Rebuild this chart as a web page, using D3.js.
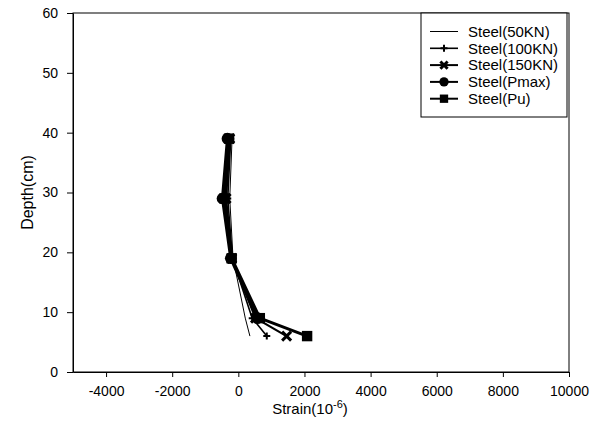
<!DOCTYPE html>
<html>
<head>
<meta charset="utf-8">
<script src="https://cdn.jsdelivr.net/npm/d3@7"></script>
<style>
  body { margin: 0; background: #fff; }
  svg { display: block; }
  text { font-family: "Liberation Sans", Arial, sans-serif; fill: #000; }
</style>
</head>
<body>
<svg id="chart" width="603" height="423"></svg>
<script>
// ---- data ----
const depths = [39, 29, 19, 9, 6];
const steel50 = [-190, -260, -160, 210, 350];
const steel100 = [-230, -320, -180, 420, 860];
const steel150 = [-260, -370, -200, 520, 1460];
const steelPmax = [-330, -480, -230, 580, null];
const steelPu = [-280, -420, -200, 650, 2080];
const seriesNames = ["Steel(50KN)", "Steel(100KN)", "Steel(150KN)", "Steel(Pmax)", "Steel(Pu)"];
const xTicks = [-4000, -2000, 0, 2000, 4000, 6000, 8000, 10000];
const yTicks = [0, 10, 20, 30, 40, 50, 60];

const seriesValues = [steel50, steel100, steel150, steelPmax, steelPu];
const styles = [
  { w: 1, marker: "none" },
  { w: 1.6, marker: "plus" },
  { w: 2.2, marker: "cross" },
  { w: 3, marker: "circle" },
  { w: 3, marker: "square" }
];

const svg = d3.select("#chart");
const m = { left: 73, right: 569, top: 13, bottom: 372 };
const x = d3.scaleLinear().domain([-5000, 10000]).range([m.left, m.right]);
const y = d3.scaleLinear().domain([0, 60]).range([m.bottom, m.top]);

// frame
svg.append("rect").attr("x", m.left).attr("y", m.top)
  .attr("width", m.right - m.left).attr("height", m.bottom - m.top)
  .attr("fill", "none").attr("stroke", "#000").attr("stroke-width", 1);

// axes
const fmt = d => String(d);
const xAxis = svg.append("g").attr("transform", `translate(0,${m.bottom})`)
  .call(d3.axisBottom(x).tickValues(xTicks).tickFormat(fmt).tickSize(5).tickSizeOuter(0).tickPadding(9));
const yAxis = svg.append("g").attr("transform", `translate(${m.left},0)`)
  .call(d3.axisLeft(y).tickValues(yTicks).tickFormat(fmt).tickSize(6).tickSizeOuter(0).tickPadding(9));
[xAxis, yAxis].forEach(g => {
  g.select(".domain").attr("stroke", "#000");
  g.selectAll(".tick line").attr("stroke", "#000");
  g.selectAll(".tick text").attr("font-size", 14).attr("fill", "#000")
    .attr("font-family", "Liberation Sans, Arial, sans-serif");
});

// axis titles
const xt = svg.append("text").attr("x", 310).attr("y", 414)
  .attr("text-anchor", "middle").attr("font-size", 15);
xt.append("tspan").text("Strain(10");
xt.append("tspan").attr("dy", -6).attr("font-size", 11).text("-6");
xt.append("tspan").attr("dy", 6).text(")");

svg.append("text").attr("transform", `translate(33,${(m.top + m.bottom) / 2}) rotate(-90)`)
  .attr("text-anchor", "middle").attr("font-size", 16).text("Depth(cm)");

// marker drawer
function drawMarker(g, type, cx, cy, scale = 1) {
  if (type === "plus") {
    g.append("path").attr("d", `M${cx - 3.5},${cy}H${cx + 3.5}M${cx},${cy - 3.5}V${cy + 3.5}`)
      .attr("stroke", "#000").attr("stroke-width", 2);
  } else if (type === "cross") {
    const s = 4.5 * scale;
    g.append("path").attr("d", `M${cx - s},${cy - s}L${cx + s},${cy + s}M${cx - s},${cy + s}L${cx + s},${cy - s}`)
      .attr("stroke", "#000").attr("stroke-width", 3);
  } else if (type === "circle") {
    g.append("circle").attr("cx", cx).attr("cy", cy).attr("r", 5.8 * scale).attr("fill", "#000");
  } else if (type === "square") {
    const s = 5.2 * scale;
    g.append("rect").attr("x", cx - s).attr("y", cy - s).attr("width", 2 * s).attr("height", 2 * s).attr("fill", "#000");
  }
}

// series
const line = d3.line().defined(d => d.v !== null).x(d => x(d.v)).y(d => y(d.d));
const plot = svg.append("g");
seriesValues.forEach((vals, i) => {
  const pts = vals.map((v, k) => ({ v, d: depths[k] })).filter(p => p.v !== null);
  plot.append("path").datum(pts).attr("d", line).attr("fill", "none")
    .attr("stroke", "#000").attr("stroke-width", styles[i].w).attr("stroke-linejoin", "round");
});
seriesValues.forEach((vals, i) => {
  vals.forEach((v, k) => {
    if (v !== null) drawMarker(plot, styles[i].marker, x(v), y(depths[k]));
  });
});

// legend
const lg = svg.append("g");
lg.append("rect").attr("x", 421).attr("y", m.top).attr("width", 146).attr("height", 104)
  .attr("fill", "#fff").attr("stroke", "#000").attr("stroke-width", 1);
seriesNames.forEach((name, i) => {
  const ly = 31.5 + i * 16.8;
  lg.append("line").attr("x1", 430).attr("x2", 458).attr("y1", ly).attr("y2", ly)
    .attr("stroke", "#000").attr("stroke-width", Math.min(styles[i].w, 2));
  drawMarker(lg, styles[i].marker, 444, ly, 0.8);
  lg.append("text").attr("x", 468).attr("y", ly).attr("dy", "0.35em")
    .attr("font-size", 15).text(name);
});
</script>
</body>
</html>
